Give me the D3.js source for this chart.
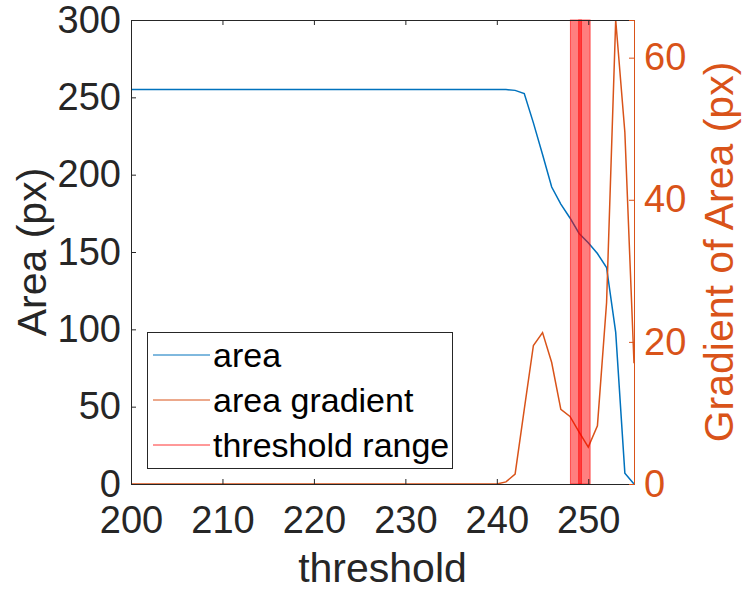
<!DOCTYPE html>
<html>
<head>
<meta charset="utf-8">
<script src="https://cdn.jsdelivr.net/npm/d3@7"></script>
<style>
  body { margin: 0; background: #fff; }
  text { font-family: "Liberation Sans", Arial, sans-serif; fill: #262626; }
</style>
</head>
<body>
<svg id="chart"></svg>
<script>
// threshold values (x)
let thresholds = [
  200, 201, 202, 203, 204, 205, 206, 207, 208, 209,
  210, 211, 212, 213, 214, 215, 216, 217, 218, 219,
  220, 221, 222, 223, 224, 225, 226, 227, 228, 229,
  230, 231, 232, 233, 234, 235, 236, 237, 238, 239,
  240, 241, 242, 243, 244, 245, 246, 247, 248, 249,
  250, 251, 252, 253, 254, 255
];
// area in px (left axis)
let area = [
  255, 255, 255, 255, 255, 255, 255, 255, 255, 255,
  255, 255, 255, 255, 255, 255, 255, 255, 255, 255,
  255, 255, 255, 255, 255, 255, 255, 255, 255, 255,
  255, 255, 255, 255, 255, 255, 255, 255, 255, 255,
  255, 255, 254.5, 252.5, 233.5, 213, 192, 181, 172, 162,
  156, 149, 140, 98, 7, 0
];
// gradient of area (right axis)
let areaGradient = [
  0, 0, 0, 0, 0, 0, 0, 0, 0, 0,
  0, 0, 0, 0, 0, 0, 0, 0, 0, 0,
  0, 0, 0, 0, 0, 0, 0, 0, 0, 0,
  0, 0, 0, 0, 0, 0, 0, 0, 0, 0,
  0, 0.3, 1.4, 10.5, 19.5, 21.3, 17.1, 10.5, 9.5, 7.3,
  5.2, 8.2, 25.5, 65.3, 49.5, 17
];
// threshold range patches
let thresholdRanges = [[248.05, 249.25], [248.95, 250.2]];

let xTicks = [200, 210, 220, 230, 240, 250];
let yLeftTicks = [0, 50, 100, 150, 200, 250, 300];
let yRightTicks = [0, 20, 40, 60];
let legendLabels = ["area", "area gradient", "threshold range"];

let width = 746;
let height = 591;
let plotL = 131, plotR = 634, plotT = 20, plotB = 484;
let blue = "#0072BD", orange = "#D95319", axisColor = "#262626";
let fontFamily = "'Liberation Sans', Arial, sans-serif";

let svg = d3.select("#chart").attr("width", width).attr("height", height);

let xScale = d3.scaleLinear().domain([200, 255]).range([plotL, plotR]);
let yLeft = d3.scaleLinear().domain([0, 300]).range([plotB, plotT]);
let yRight = d3.scaleLinear().domain([0, d3.max(areaGradient)]).range([plotB, plotT]);

let areaData = thresholds.map((t, i) => ({ t: t, v: area[i] }));
let gradData = thresholds.map((t, i) => ({ t: t, v: areaGradient[i] }));

// lines
svg.append("path")
  .datum(areaData)
  .attr("fill", "none")
  .attr("stroke", blue)
  .attr("stroke-width", 1.5)
  .attr("d", d3.line().x(d => xScale(d.t)).y(d => yLeft(d.v)));

svg.append("path")
  .datum(gradData)
  .attr("fill", "none")
  .attr("stroke", orange)
  .attr("stroke-width", 1.5)
  .attr("d", d3.line().x(d => xScale(d.t)).y(d => yRight(d.v)));

// threshold range bands
svg.selectAll(".band")
  .data(thresholdRanges)
  .enter()
  .append("rect")
  .attr("class", "band")
  .attr("x", d => xScale(d[0]))
  .attr("y", plotT)
  .attr("width", d => xScale(d[1]) - xScale(d[0]))
  .attr("height", plotB - plotT)
  .attr("fill", "rgba(255,0,0,0.5)")
  .attr("stroke", "#ff0000")
  .attr("stroke-opacity", 0.6)
  .attr("stroke-width", 1);

// axes
let tickFont = "38px";

let xAxis = d3.axisBottom(xScale).tickValues(xTicks).tickSize(-5).tickPadding(22);
let gx = svg.append("g")
  .attr("transform", "translate(0," + plotB + ")")
  .call(xAxis);
gx.select(".domain").attr("stroke", axisColor);
gx.selectAll(".tick line").attr("stroke", axisColor);
gx.selectAll("text").style("font-size", tickFont).attr("fill", axisColor)
  .style("font-family", fontFamily);

let xTop = d3.axisTop(xScale).tickValues(xTicks).tickSize(-5).tickFormat("");
let gxt = svg.append("g")
  .attr("transform", "translate(0," + plotT + ")")
  .call(xTop);
gxt.select(".domain").attr("stroke", axisColor);
gxt.selectAll(".tick line").attr("stroke", axisColor);

let yAxisL = d3.axisLeft(yLeft).tickValues(yLeftTicks).tickSize(-5).tickPadding(10);
let gyl = svg.append("g")
  .attr("transform", "translate(" + plotL + ",0)")
  .call(yAxisL);
gyl.select(".domain").attr("stroke", axisColor);
gyl.selectAll(".tick line").attr("stroke", axisColor);
gyl.selectAll("text").style("font-size", tickFont).attr("fill", axisColor)
  .style("font-family", fontFamily);

let yAxisR = d3.axisRight(yRight).tickValues(yRightTicks).tickSize(-5).tickPadding(10);
let gyr = svg.append("g")
  .attr("transform", "translate(" + plotR + ",0)")
  .call(yAxisR);
gyr.select(".domain").attr("stroke", orange);
gyr.selectAll(".tick line").attr("stroke", orange);
gyr.selectAll("text").style("font-size", tickFont).style("fill", orange)
  .style("font-family", fontFamily);

// axis labels
svg.append("text")
  .attr("x", (plotL + plotR) / 2)
  .attr("y", 582)
  .attr("text-anchor", "middle")
  .style("font-size", "41px")
  .text("threshold");

svg.append("text")
  .attr("transform", "translate(46," + (plotT + plotB) / 2 + ") rotate(-90)")
  .attr("text-anchor", "middle")
  .style("font-size", "41px")
  .text("Area (px)");

svg.append("text")
  .attr("transform", "translate(733," + (plotT + plotB) / 2 + ") rotate(-90)")
  .attr("text-anchor", "middle")
  .style("font-size", "41px")
  .style("fill", orange)
  .text("Gradient of Area (px)");

// legend
let legend = svg.append("g");
legend.append("rect")
  .attr("x", 147.5)
  .attr("y", 332.5)
  .attr("width", 305)
  .attr("height", 136)
  .attr("fill", "#fff")
  .attr("stroke", axisColor)
  .attr("stroke-width", 1);

let legendColors = [blue, orange, "#ff3333"];
let rows = legend.selectAll(".row")
  .data(legendLabels)
  .enter()
  .append("g")
  .attr("transform", (d, i) => "translate(0," + (355 + i * 45) + ")");
rows.append("line")
  .attr("x1", 153).attr("x2", 210)
  .attr("y1", 0).attr("y2", 0)
  .attr("stroke", (d, i) => legendColors[i])
  .attr("stroke-width", 1);
rows.append("text")
  .attr("x", 213)
  .attr("dy", "0.35em")
  .style("font-size", "34px")
  .style("fill", "#000")
  .text(d => d);
</script>
</body>
</html>
